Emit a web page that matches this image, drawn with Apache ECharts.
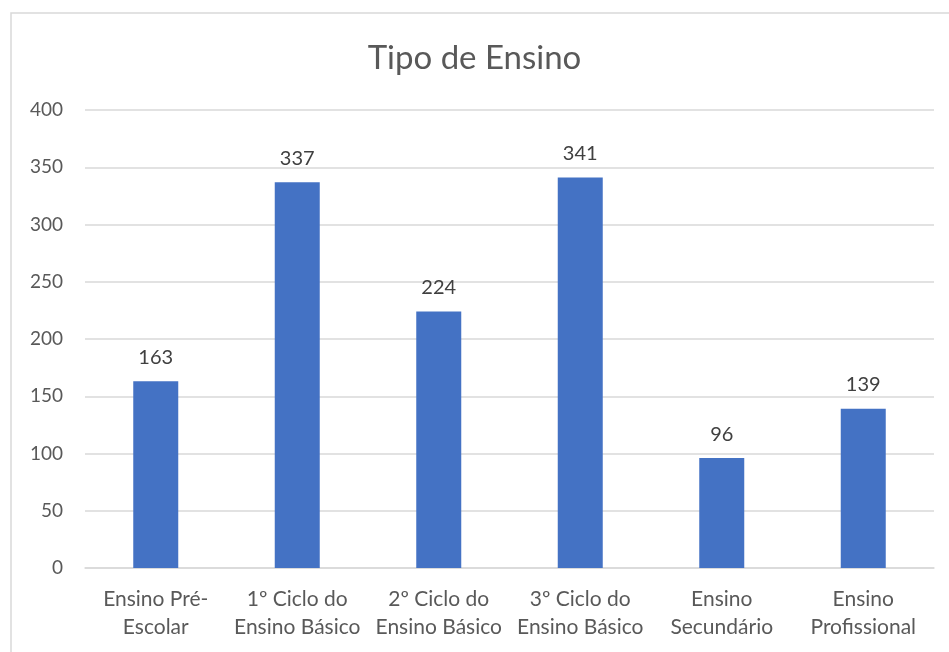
<!DOCTYPE html>
<html><head><meta charset="utf-8">
<script src="https://cdn.jsdelivr.net/npm/echarts@6/dist/echarts.min.js"></script>
<style>html,body{margin:0;padding:0;background:#fff}#c{width:949px;height:652px}</style>
</head><body><div id="c"></div>
<script>
const categories = ["Ensino Pré-\nEscolar", "1º Ciclo do\nEnsino Básico", "2º Ciclo do\nEnsino Básico", "3º Ciclo do\nEnsino Básico", "Ensino\nSecundário", "Ensino\nProfissional"];
const values = [163, 337, 224, 341, 96, 139];
const title = "Tipo de Ensino";
const FONT = "Lato, 'Open Sans', sans-serif";
const chart = echarts.init(document.getElementById('c'), null, {renderer:'canvas'});
chart.setOption({
  animation:false,
  backgroundColor:'#fff',
  title:{text:title,left:'center',top:37,textStyle:{fontFamily:FONT,fontSize:33,fontWeight:'normal',color:'#595959'}},
  graphic:[{type:'rect',shape:{x:11,y:13,width:960,height:660},style:{fill:'none',stroke:'#d9d9d9',lineWidth:1.5},silent:true}],
  grid:{left:85,right:15,top:110,bottom:84},
  xAxis:{type:'category',data:categories,
    axisLine:{lineStyle:{color:'#d9d9d9',width:1.5}},axisTick:{show:false},
    axisLabel:{fontFamily:FONT,fontSize:21,color:'#595959',lineHeight:28,margin:17,interval:0}},
  yAxis:{type:'value',min:0,max:400,interval:50,
    axisLine:{show:false},axisTick:{show:false},
    splitLine:{lineStyle:{color:'#d9d9d9',width:1.5}},
    axisLabel:{fontFamily:FONT,fontSize:19,color:'#595959',margin:22}},
  series:[{type:'bar',data:values,barWidth:45,
    itemStyle:{color:'#4472C4'},
    label:{show:true,position:'top',distance:14,fontFamily:FONT,fontSize:20,color:'#404040'}}]
});
</script></body></html>
